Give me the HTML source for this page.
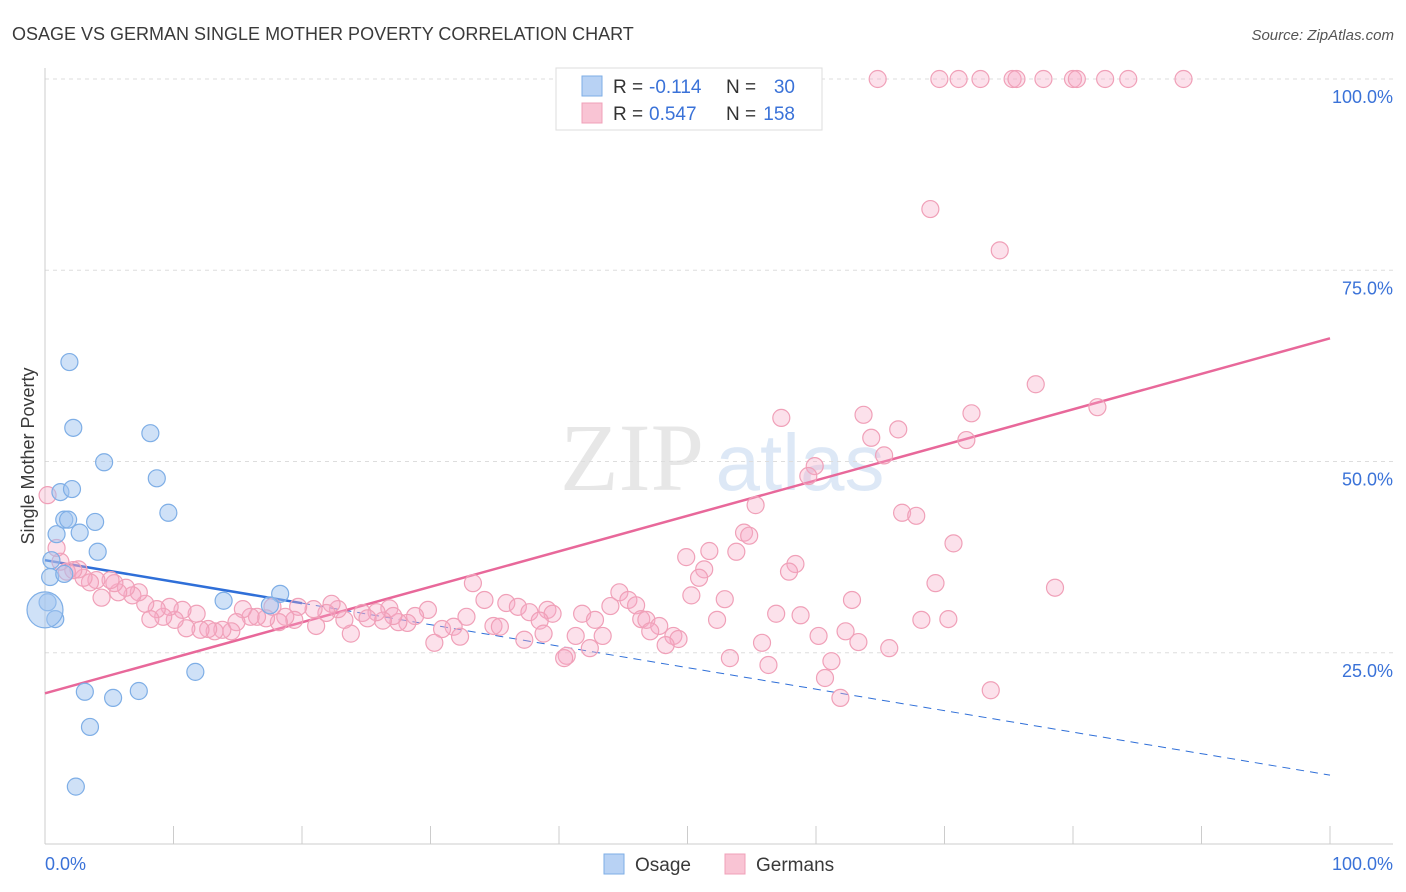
<!DOCTYPE html>
<html><head><meta charset="utf-8">
<style>
body{margin:0;background:#fff;font-family:"Liberation Sans",sans-serif;}
#wrap{position:relative;width:1406px;height:892px;overflow:hidden;}
</style></head>
<body>
<div id="wrap">
<svg id="svg" width="1406" height="892" xmlns="http://www.w3.org/2000/svg">
<text x="12" y="40" font-size="18" fill="#3a3a3a">OSAGE VS GERMAN SINGLE MOTHER POVERTY CORRELATION CHART</text>
<text x="1394" y="40" font-size="15" fill="#555" font-style="italic" text-anchor="end">Source: ZipAtlas.com</text>
<text x="34" y="456" font-size="18" fill="#3a3a3a" text-anchor="middle" transform="rotate(-90 34 456)">Single Mother Poverty</text>
<g opacity="0.35">
<text x="632" y="490" font-size="96" font-family="Liberation Serif,serif" fill="#bbb" text-anchor="middle">ZIP</text>
<text x="800" y="490" font-size="80" fill="#9fc0e8" text-anchor="middle">atlas</text>
</g>
<g id="grid"></g>
<g id="axes"></g>
<g id="trend"></g>
<g id="pts"></g>
<g>
<rect x="556" y="68" width="266" height="62" fill="#fff" stroke="#ddd"/>
<rect x="582" y="76" width="20" height="20" fill="#b8d2f4" stroke="#7eaee6"/>
<rect x="582" y="103" width="20" height="20" fill="#f9c4d4" stroke="#f0a0b8"/>
<g font-size="19" fill="#333">
<text x="613" y="93">R =</text><text x="649" y="93" fill="#3a72d8">-0.114</text>
<text x="726" y="93">N =</text><text x="795" y="93" fill="#3a72d8" text-anchor="end">30</text>
</g>
<g font-size="19" fill="#333">
<text x="613" y="120">R =</text><text x="649" y="120" fill="#3a72d8">0.547</text>
<text x="726" y="120">N =</text><text x="795" y="120" fill="#3a72d8" text-anchor="end">158</text>
</g>
</g>
<g>
<rect x="604" y="854" width="20" height="20" fill="#b8d2f4" stroke="#7eaee6"/>
<text x="635" y="871" font-size="19" fill="#3a3a3a">Osage</text>
<rect x="725" y="854" width="20" height="20" fill="#f9c4d4" stroke="#f0a0b8"/>
<text x="756" y="871" font-size="19" fill="#3a3a3a">Germans</text>
</g>
</svg>
</div>
<script>
const yTicks=[25,50,75,100];
const yTickLabels=["25.0%","50.0%","75.0%","100.0%"];
const xLabels=["0.0%","100.0%"];
const osageX=[0.4,0.2,0.8,0.5,0.9,1.2,1.5,1.8,2.1,2.2,1.9,1.5,2.7,3.9,4.1,4.6,8.2,8.7,9.6,3.1,5.3,7.3,3.5,2.4,11.7,13.9,18.3,17.5,0];
const osageY=[34.9,31.6,29.4,37.1,40.5,46.0,42.4,42.4,46.4,54.4,63.0,35.3,40.7,42.1,38.2,49.9,53.7,47.8,43.3,19.9,19.1,20.0,15.3,7.5,22.5,31.8,32.7,31.2,30.6];
const gerX=[64.8,69.6,71.1,72.8,75.3,75.6,77.7,80.0,80.3,82.5,84.3,88.6,68.9,74.3,77.1,81.9,72.1,63.7,57.3,66.4,64.3,71.7,65.3,59.9,59.4,55.3,66.7,67.8,54.4,54.8,70.7,51.7,53.8,49.9,51.3,58.4,57.9,50.9,69.3,78.6,33.3,50.3,52.9,62.8,44.7,45.4,34.2,44.0,46.0,35.9,36.8,39.1,39.5,37.7,41.8,42.8,52.3,56.9,58.8,68.2,70.3,46.4,46.8,47.8,47.1,48.9,49.3,48.3,43.4,41.3,42.4,40.6,40.4,60.2,62.3,63.3,65.7,55.8,53.3,56.3,61.2,60.7,61.9,73.6,38.5,38.8,37.3,34.9,35.4,32.8,31.8,30.9,32.3,30.3,29.8,28.8,28.2,27.5,26.8,27.1,26.3,25.8,24.7,25.1,23.8,23.3,22.8,22.3,21.9,21.1,20.9,19.7,19.4,18.7,18.2,17.7,17.2,16.5,16.0,15.4,14.9,14.5,13.8,13.2,12.7,12.1,11.8,11.0,10.7,10.1,9.7,9.2,8.7,8.2,7.8,7.3,6.8,6.3,5.7,5.4,5.1,4.4,4.0,3.5,3.0,2.6,2.2,1.7,1.2,0.9,0.2];
const gerY=[100,100,100,100,100,100,100,100,100,100,100,100,83.0,77.6,60.1,57.1,56.3,56.1,55.7,54.2,53.1,52.8,50.8,49.4,48.1,44.3,43.3,42.9,40.7,40.3,39.3,38.3,38.2,37.5,35.9,36.6,35.6,34.8,34.1,33.5,34.1,32.5,32.0,31.9,32.9,31.9,31.9,31.1,31.2,31.5,31.0,30.6,30.1,30.3,30.1,29.3,29.3,30.1,29.9,29.3,29.4,29.4,29.3,28.5,27.8,27.2,26.8,26.0,27.2,27.2,25.6,24.6,24.3,27.2,27.8,26.4,25.6,26.3,24.3,23.4,23.9,21.7,19.1,20.1,29.2,27.5,26.7,28.5,28.4,29.7,28.4,28.1,27.1,26.3,30.6,29.8,28.9,29.0,30.8,29.8,29.2,30.3,30.2,29.5,27.5,29.3,30.7,31.4,30.2,28.5,30.7,31.0,29.3,29.7,29.0,31.0,29.5,29.7,29.7,30.7,29.0,27.8,28.0,27.8,28.1,28.0,30.1,28.2,30.6,29.3,31.0,29.7,30.7,29.4,31.4,32.9,32.5,33.5,32.9,34.1,34.5,32.2,34.5,34.2,34.8,35.9,35.8,35.6,36.9,38.7,45.6];
const osageTrend=[37.1,9.0];
const gerTrend=[19.7,66.1];
const NS="http://www.w3.org/2000/svg";
const X0=45,X1=1330,Y0=844,Y100=79;
const sx=v=>X0+(X1-X0)*v/100, sy=v=>Y0-(Y0-Y100)*v/100;
function mk(tag,attrs,parent){const e=document.createElementNS(NS,tag);for(const k in attrs)e.setAttribute(k,attrs[k]);document.getElementById(parent).appendChild(e);return e;}
yTicks.forEach((t,i)=>{
 const l=mk('line',{x1:X0,x2:1393,y1:sy(t),y2:sy(t),stroke:'#ddd','stroke-dasharray':'4,4'},'grid');
 
 
 const tx=mk('text',{x:1393,y:sy(t)+24,'font-size':18,fill:'#3a72d8','text-anchor':'end'},'grid');
 tx.textContent=yTickLabels[i];
 
 
});
let a=mk('line',{x1:X0,x2:X0,y1:68,y2:Y0,stroke:'#ccc'},'axes');


a=mk('line',{x1:X0,x2:1393,y1:Y0,y2:Y0,stroke:'#ccc'},'axes');


for(let i=0;i<=10;i++){
 const t=mk('line',{x1:sx(i*10),x2:sx(i*10),y1:826,y2:Y0,stroke:'#ccc'},'axes');
 
 
}
[[0,'start',45],[100,'end',1393]].forEach((p,i)=>{
 const t=mk('text',{x:p[2],y:870,'font-size':18,fill:'#3a72d8','text-anchor':p[1]},'axes');
 t.textContent=xLabels[i];
 
 
});
const ys=x=>osageTrend[0]+(osageTrend[1]-osageTrend[0])*x/100;
let tl=mk('line',{x1:sx(0),y1:sy(ys(0)),x2:sx(20),y2:sy(ys(20)),stroke:'#2f6fd8','stroke-width':2.5},'trend');


tl=mk('line',{x1:sx(20),y1:sy(ys(20)),x2:sx(100),y2:sy(ys(100)),stroke:'#2f6fd8','stroke-width':1,'stroke-dasharray':'8,6'},'trend');


tl=mk('line',{x1:sx(0),y1:sy(gerTrend[0]),x2:sx(100),y2:sy(gerTrend[1]),stroke:'#e8689a','stroke-width':2.5},'trend');


gerX.forEach((x,i)=>{
 const c=mk('circle',{cx:sx(x),cy:sy(gerY[i]),r:8.5,fill:'rgba(246,170,198,0.35)',stroke:'#f0a0b8','stroke-width':1.2},'pts');
 
 
});
osageX.forEach((x,i)=>{
 const big=i===osageX.length-1;
 const c=mk('circle',{cx:sx(x),cy:sy(osageY[i]),r:big?18:8.5,fill:'rgba(160,196,240,0.5)',stroke:'#7eaee6','stroke-width':1.2},'pts');
 
 
});
</script>
</body></html>
